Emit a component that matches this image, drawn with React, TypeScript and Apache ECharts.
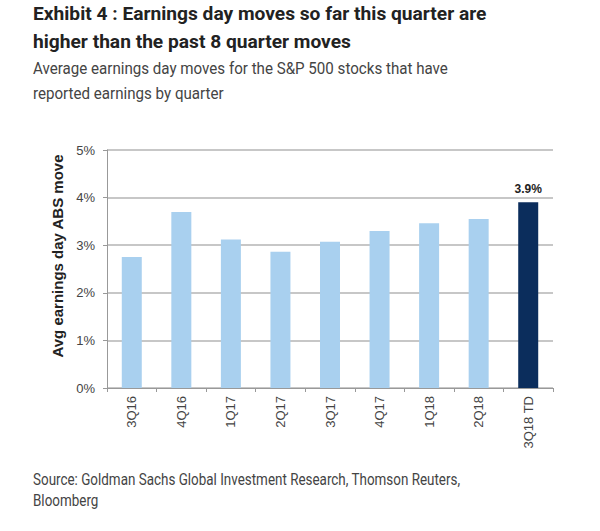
import React, { useEffect, useRef } from "react";
import * as echarts from "echarts";

const categories = ["3Q16", "4Q16", "1Q17", "2Q17", "3Q17", "4Q17", "1Q18", "2Q18", "3Q18 TD"];
const moves = [2.75, 3.7, 3.12, 2.86, 3.07, 3.3, 3.46, 3.55, 3.9];
const yTicks = [0, 1, 2, 3, 4, 5];
const highlighted = "3Q18 TD";

const titleLines = [
  "Exhibit 4 : Earnings day moves so far this quarter are",
  "higher than the past 8 quarter moves",
];
const subtitleLines = [
  "Average earnings day moves for the S&P 500 stocks that have",
  "reported earnings by quarter",
];
const sourceLines = [
  "Source: Goldman Sachs Global Investment Research, Thomson Reuters,",
  "Bloomberg",
];
const yAxisTitle = "Avg earnings day ABS move";

const NARROW = 'Roboto, sans-serif';
const ARIAL = '"Liberation Sans", Arial, sans-serif';

export default function App() {
  const ref = useRef<HTMLDivElement>(null);
  useEffect(() => {
    document.body.style.margin = "0";
    if (!ref.current) return;
    const chart = echarts.init(ref.current, undefined, { renderer: "svg" });
    const lastIdx = categories.indexOf(highlighted);
    const texts: any[] = [];
    titleLines.forEach((t, i) =>
      texts.push({
        type: "text",
        x: 33,
        y: 4 + i * 28,
        scaleX: 1.01,
        style: { text: t, font: `bold 19px ${NARROW}`, fill: "#222", verticalAlign: "top" },
      })
    );
    subtitleLines.forEach((t, i) =>
      texts.push({
        type: "text",
        x: 33,
        y: 60 + i * 25,
        scaleX: 0.89,
        style: { text: t, font: `17px ${NARROW}`, fill: "#444", verticalAlign: "top" },
      })
    );
    sourceLines.forEach((t, i) =>
      texts.push({
        type: "text",
        x: 33,
        y: 472 + i * 21,
        scaleX: 0.84,
        style: { text: t, font: `16px ${NARROW}`, fill: "#444", verticalAlign: "top" },
      })
    );
    texts.push({
      type: "text",
      x: 57,
      y: 256,
      rotation: Math.PI / 2,
      style: {
        text: yAxisTitle,
        font: `bold 15px ${ARIAL}`,
        fill: "#222",
        align: "center",
        verticalAlign: "middle",
      },
    });
    chart.setOption({
      animation: false,
      backgroundColor: "#fff",
      graphic: texts,
      grid: { left: 107, right: 47, top: 150, bottom: 143 },
      xAxis: {
        type: "category",
        data: categories,
        axisLine: { show: true, lineStyle: { color: "#999", width: 1 } },
        axisTick: { show: true, alignWithLabel: false, length: 4, lineStyle: { color: "#999" } },
        axisLabel: {
          rotate: 90,
          margin: 8,
          fontFamily: ARIAL,
          fontSize: 13,
          color: "#444",
          interval: 0,
        },
      },
      yAxis: {
        type: "value",
        min: 0,
        max: 5,
        interval: 1,
        axisLine: { show: true, lineStyle: { color: "#999" } },
        axisTick: { show: true, length: 4, lineStyle: { color: "#999" } },
        splitLine: { show: true, lineStyle: { color: "#b4b4b4", width: 1.5 } },
        axisLabel: {
          formatter: (v: number) => (yTicks.includes(v) ? `${v}%` : ""),
          fontFamily: ARIAL,
          fontSize: 13,
          color: "#444",
          margin: 12,
        },
      },
      series: [
        {
          type: "bar",
          data: moves.map((v, i) => ({
            value: v,
            itemStyle: { color: i === lastIdx ? "#0b2d5c" : "#a9d0ef" },
            label:
              i === lastIdx
                ? {
                    show: true,
                    position: "top",
                    distance: 7,
                    formatter: (p: any) => `${p.value.toFixed(1)}%`,
                    fontFamily: ARIAL,
                    fontWeight: "bold",
                    fontSize: 12,
                    color: "#222",
                  }
                : { show: false },
          })),
          barWidth: 20,
        },
      ],
    });
    return () => chart.dispose();
  }, []);
  return (
    <div
      ref={ref}
      style={{ position: "absolute", left: 0, top: 0, width: 600, height: 531 }}
    />
  );
}
